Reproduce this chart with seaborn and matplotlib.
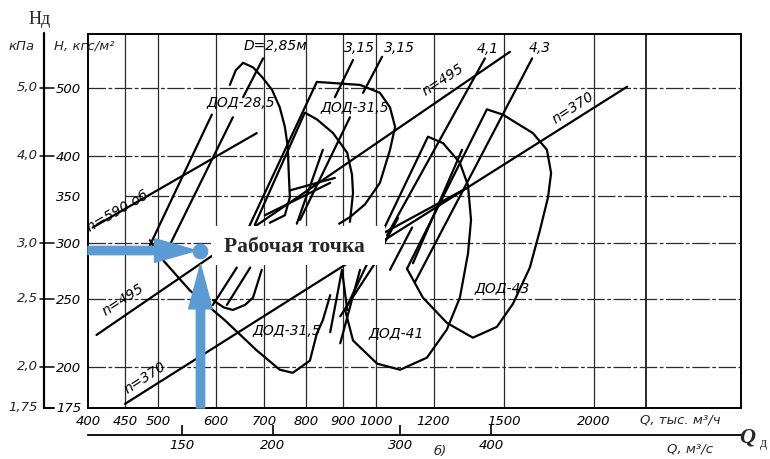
import numpy as np
import pandas as pd
import matplotlib
matplotlib.use("Agg")
import matplotlib.pyplot as plt
import matplotlib.ticker as mticker
import matplotlib.transforms as mtrans
from matplotlib.patches import Rectangle
from matplotlib.lines import Line2D
import seaborn as sns

# ---------------- data (Q, тыс. м3/ч ; H, кгс/м2) ----------------
# lines of constant speed n
n590_Q = [406, 684]
n590_H = [316, 431]
n495_Q = [411, 1530]
n495_H = [222, 563]
n370_Q = [450, 2221]
n370_H = [177, 502]

# upper (hood-shaped) boundaries
hood285_Q = [628, 640, 655, 676, 696, 718, 736, 748, 755, 757, 760, 748, 713]
hood285_H = [505, 530, 543, 535, 518, 497, 469, 440, 412, 382, 349, 329, 321]
hood315o_Q = [659, 828, 950, 1012, 1045, 1062, 1045, 1012, 965, 920, 889]
hood315o_H = [308, 510, 505, 492, 469, 440, 408, 366, 341, 327, 320]
hood315i_Q = [680, 797, 828, 872, 912, 926, 929, 920]
hood315i_H = [319, 461, 451, 431, 404, 376, 354, 322]

# closed working zones
dod41_Q = [906, 929, 1003, 1079, 1175, 1252, 1305, 1339, 1352, 1339, 1305, 1237, 1179, 906]
dod41_H = [241, 218, 202, 198, 206, 226, 251, 290, 324, 363, 391, 417, 426, 241]
dod43_Q = [1103, 1160, 1252, 1360, 1468, 1545, 1630, 1683, 1727, 1744, 1721, 1646, 1496, 1422, 1103]
dod43_H = [276, 251, 231, 220, 228, 246, 277, 313, 349, 378, 408, 431, 458, 466, 276]

# lower (U-shaped) boundaries
u315_Q = [487, 503, 553, 618, 684, 736, 767, 810, 828, 844, 864]
u315_H = [303, 287, 257, 233, 211, 198, 196, 204, 223, 233, 253]
u285_Q = [595, 616, 634, 659, 676, 695]
u285_H = [249, 243, 241, 245, 251, 275]

# steep lines (blade angle / diameter lines and leaders)
steep_Q = [[487, 593], [516, 634], [655, 698], [877, 929], [959, 1019],
           [785, 920], [1035, 1413], [1131, 1642], [1124, 1314], [595, 642],
           [622, 670], [892, 950], [892, 1003], [864, 897, 912], [1006, 1072],
           [1045, 1121], [777, 844]]
steep_H = [[298, 458], [295, 454], [485, 551], [485, 548], [492, 554],
           [324, 454], [308, 551], [264, 551], [281, 408], [245, 277],
           [245, 277], [216, 275], [236, 284], [224, 275, 241], [289, 326],
           [275, 316], [320, 408]]

# short moderate-slope lines
mod_Q = [[1022, 1335], [760, 877], [702, 864]]
mod_H = [[310, 360], [357, 372], [329, 366]]

# working point
work_Q = [572]
work_H = [293]

# axes ticks
x_ticks = [400, 450, 500, 600, 700, 800, 900, 1000, 1200, 1500, 2000]
x_labels = ["400", "450", "500", "600", "700", "800", "900", "1000", "1200", "1500", "2000"]
x_grid = [450, 500, 600, 700, 800, 900, 1000, 1200, 1500, 2000, 2360]
y_ticks = [175, 200, 250, 300, 350, 400, 500]
y_labels = ["175", "200", "250", "300", "350", "400", "500"]
kpa_ticks = [175, 200, 250, 300, 400, 500]
kpa_labels = ["1,75", "2,0", "2,5", "3,0", "4,0", "5,0"]
qs_ticks = [150, 200, 300, 400]
qs_labels = ["150", "200", "300", "400"]

# ---------------- drawing ----------------
sns.set_theme(style="white")
plt.rcParams["font.family"] = ["DejaVu Sans"]

W, Hh = 770, 459
fig = plt.figure(figsize=(7.7, 4.59), dpi=100)
ax = fig.add_axes([88 / W, 1 - 408 / Hh, 653 / W, 374 / Hh])
ax.set_xscale("log")
ax.set_yscale("log")
ax.set_xlim(400, 3190)
ax.set_ylim(174.6, 597)

# grid
for xg in x_grid:
    ax.axvline(xg, color="#2a2a2a", lw=1.4 if xg == 2360 else 0.9, zorder=1)
for yg in [200, 250, 300, 400, 500]:
    ax.axhline(yg, color="#2a2a2a", lw=0.9, ls=(0, (14, 2, 3, 2)), zorder=1)
ax.hlines(350, 450, 3190, color="#2a2a2a", lw=0.9, ls=(0, (14, 2, 3, 2)), zorder=1)

curve_kw = dict(color="black", lw=1.6, sort=False, estimator=None, legend=False, ax=ax)
for q, h in [(n590_Q, n590_H), (n495_Q, n495_H), (n370_Q, n370_H),
             (hood285_Q, hood285_H), (hood315o_Q, hood315o_H), (hood315i_Q, hood315i_H),
             (dod41_Q, dod41_H), (dod43_Q, dod43_H), (u315_Q, u315_H), (u285_Q, u285_H)]:
    sns.lineplot(x=q, y=h, **curve_kw)
for q, h in zip(steep_Q, steep_H):
    sns.lineplot(x=q, y=h, **curve_kw)
for q, h in zip(mod_Q, mod_H):
    sns.lineplot(x=q, y=h, **curve_kw)

# annotations on the field
lab = dict(fontsize=10, style="italic", color="black", ha="center", va="center", zorder=5)
ax.text(725, 574, "D=2,85м", **lab)
ax.text(947, 570, "3,15", **lab)
ax.text(1076, 570, "3,15", **lab)
ax.text(1427, 568, "4,1", **lab)
ax.text(1683, 570, "4,3", **lab)
ax.text(651, 476, "ДОД-28,5", **lab)
ax.text(935, 468, "ДОД-31,5", **lab)
ax.text(753, 225, "ДОД-31,5", **lab)
ax.text(1065, 223, "ДОД-41", **lab)
ax.text(1492, 259, "ДОД-43", **lab)
ax.text(440, 333, "n=590 об", rotation=30, rotation_mode="anchor", **lab)
ax.text(447, 249, "n=495", rotation=33, rotation_mode="anchor", **lab)
ax.text(480, 193, "n=370", rotation=33, rotation_mode="anchor", **lab)
ax.text(1237, 513, "n=495", rotation=33, rotation_mode="anchor", **lab)
ax.text(1870, 468, "n=370", rotation=33, rotation_mode="anchor", **lab)

# working point label with white box
ax.add_patch(Rectangle((0.190, 0.382), 0.265, 0.105, transform=ax.transAxes,
                       facecolor="white", edgecolor="none", zorder=6))
ax.text(0.316, 0.430, "Рабочая точка", transform=ax.transAxes, ha="center", va="center",
        fontsize=15.5, fontweight="bold", family=["Liberation Serif", "DejaVu Serif"], zorder=7)

blue = "#5B9BD5"
ax.annotate("", xy=(work_Q[0], work_H[0]), xytext=(400, work_H[0]),
            arrowprops=dict(arrowstyle="simple,head_length=1.5,head_width=0.85,tail_width=0.3",
                            mutation_scale=20, color=blue, shrinkA=0, shrinkB=3), zorder=8)
ax.annotate("", xy=(work_Q[0], work_H[0]), xytext=(work_Q[0], 174.6),
            arrowprops=dict(arrowstyle="simple,head_length=1.6,head_width=0.85,tail_width=0.3",
                            mutation_scale=20, color=blue, shrinkA=0, shrinkB=10), zorder=8)
sns.scatterplot(x=work_Q, y=work_H, s=110, color=blue, edgecolor=blue, zorder=9, ax=ax, legend=False)

# ticks
ax.xaxis.set_major_locator(mticker.FixedLocator(x_ticks))
ax.xaxis.set_major_formatter(mticker.FixedFormatter(x_labels))
ax.xaxis.set_minor_locator(mticker.NullLocator())
ax.yaxis.set_major_locator(mticker.FixedLocator(y_ticks))
ax.yaxis.set_major_formatter(mticker.FixedFormatter(y_labels))
ax.yaxis.set_minor_locator(mticker.NullLocator())
ax.tick_params(axis="both", length=0, labelsize=9.5, colors="black")
ax.tick_params(axis="x", pad=5)
ax.tick_params(axis="y", pad=5)
for t in ax.get_xticklabels() + ax.get_yticklabels():
    t.set_style("italic")
ax.set_xlabel("")
ax.set_ylabel("")
for sp in ax.spines.values():
    sp.set_color("black")
    sp.set_linewidth(1.4)

# secondary Q axis in m3/s
sec = ax.secondary_xaxis(-0.072, functions=(lambda q: q / 3.6, lambda q: q * 3.6))
sec.xaxis.set_major_locator(mticker.FixedLocator(qs_ticks))
sec.xaxis.set_major_formatter(mticker.FixedFormatter(qs_labels))
sec.xaxis.set_minor_locator(mticker.NullLocator())
sec.tick_params(axis="x", direction="in", length=7, width=1.2, labelsize=9.5, pad=3, colors="black")
for t in sec.get_xticklabels():
    t.set_style("italic")
sec.spines["bottom"].set_linewidth(1.3)
sec.spines["bottom"].set_color("black")

# left kPa scale
fig.add_artist(Line2D([44 / W, 44 / W], [1 - 33 / Hh, 1 - 408 / Hh], transform=fig.transFigure,
                      color="black", lw=1.6))
fig.add_artist(Line2D([44 / W, 54 / W], [1 - 408 / Hh, 1 - 408 / Hh], transform=fig.transFigure,
                      color="black", lw=1.4))
bt = mtrans.blended_transform_factory(fig.transFigure, ax.transData)
for v, s in zip(kpa_ticks, kpa_labels):
    if v != 175:
        fig.add_artist(Line2D([40 / W, 54 / W], [v, v], transform=bt, color="black", lw=1.1))
    fig.text(38 / W, v, s, transform=bt, ha="right", va="center", fontsize=9.5, style="italic")

# header texts
fig.text(40 / W, 1 - 19 / Hh, "Нд", ha="center", va="center", fontsize=13,
         family=["Liberation Serif", "DejaVu Serif"])
fig.text(22 / W, 1 - 46 / Hh, "кПа", ha="center", va="center", fontsize=9.5, style="italic")
fig.text(84 / W, 1 - 46 / Hh, "H, кгс/м²", ha="center", va="center", fontsize=9.5, style="italic")

# bottom texts
fig.text(680 / W, 1 - 420 / Hh, "Q, тыс. м³/ч", ha="center", va="center", fontsize=9.5, style="italic")
fig.text(690 / W, 1 - 449 / Hh, "Q, м³/с", ha="center", va="center", fontsize=9.5, style="italic")
fig.text(440 / W, 1 - 452 / Hh, "б)", ha="center", va="center", fontsize=9.5, style="italic")
fig.text(747 / W, 1 - 438 / Hh, "Q", ha="center", va="center", fontsize=16, fontweight="bold",
         style="italic", family=["Liberation Serif", "DejaVu Serif"])
fig.text(763 / W, 1 - 443 / Hh, "д", ha="center", va="center", fontsize=10,
         family=["Liberation Serif", "DejaVu Serif"])

fig.savefig("out.png", dpi=100, facecolor="white")
